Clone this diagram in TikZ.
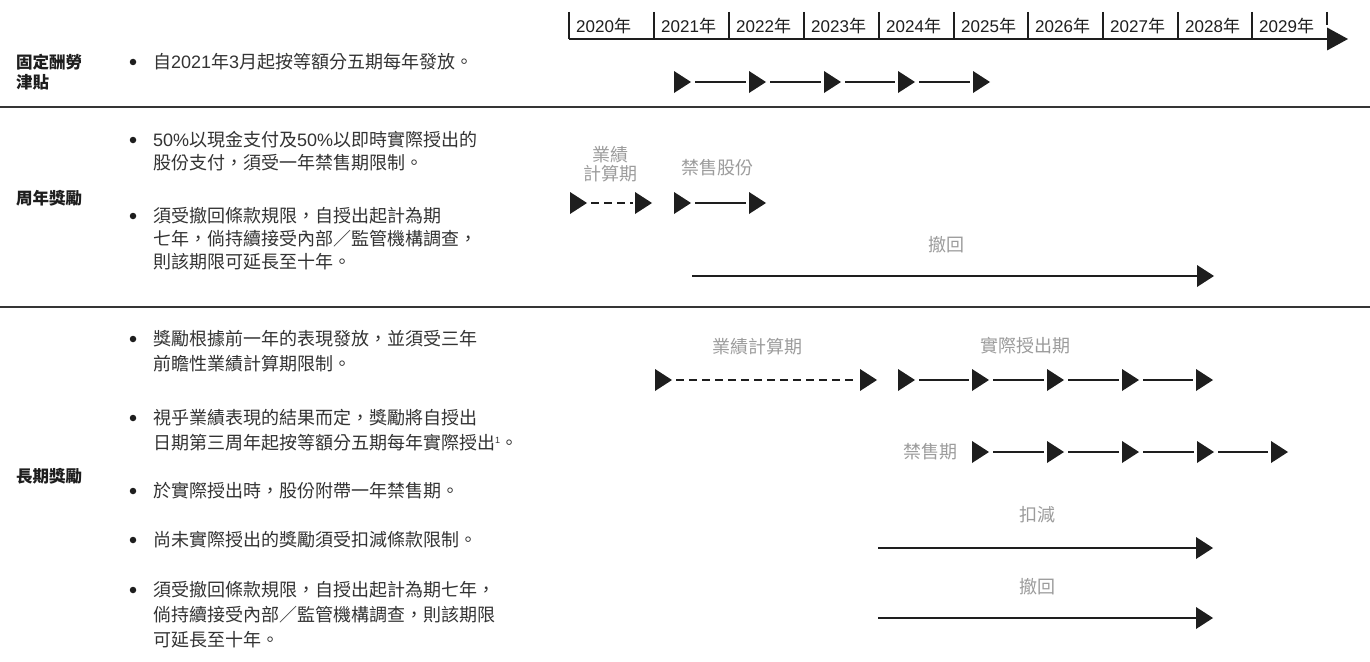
\documentclass[tikz,border=0pt]{standalone}
\usepackage{fontspec}
\setmainfont{Noto Sans CJK TC}
\newfontfamily\lat{Liberation Sans}
\usetikzlibrary{shapes.geometric}
\definecolor{ink}{HTML}{1E1E1E}
\definecolor{txt}{HTML}{333333}
\definecolor{lab}{HTML}{9C9C9C}
\tikzset{
  tri/.style={isosceles triangle, isosceles triangle stretches, fill=ink, draw=none,
    inner sep=0pt, outer sep=0pt, minimum width=22pt, minimum height=17pt, anchor=west},
  axtri/.style={tri, minimum width=23pt, minimum height=21pt},
  conn/.style={draw=ink, line width=2pt},
  gapconn/.style={conn, shorten <=4pt, shorten >=3pt},
  dashconn/.style={draw=ink, line width=2.4pt, dash pattern=on 8pt off 5pt, shorten <=4pt, shorten >=2pt},
  axisline/.style={draw=ink, line width=2.4pt},
  tickline/.style={draw=ink, line width=1.4pt},
  sepline/.style={draw=ink!90, line width=1.6pt},
  year/.style={font=\fontsize{17}{20}\selectfont, text=ink, inner sep=0pt, anchor=west},
  rowlab/.style={font=\fontsize{16.5}{20}\selectfont\bfseries, text=ink, inner sep=0pt, anchor=west, align=left},
  btxt/.style={font=\fontsize{18}{23}\selectfont, text=txt, inner sep=0pt, anchor=west, align=left},
  btxtb/.style={btxt, font=\fontsize{18}{25}\selectfont},
  bdot/.style={circle, fill=ink, inner sep=0pt, minimum size=6.5pt},
  glab/.style={font=\fontsize{18}{19}\selectfont, text=lab, inner sep=0pt, align=center},
}
\begin{document}
\begin{tikzpicture}[x=1pt,y=-1pt]
\useasboundingbox[fill=white] (0,0) rectangle (1370,661);

% ---------- time axis ----------
\foreach \x/\yr in {569/2020,654/2021,729/2022,804/2023,879/2024,954/2025,1028/2026,1103/2027,1178/2028,1252/2029}{
  \draw[tickline] (\x,12) -- (\x,39);
  \node[year] (y\yr) at (\x+7,26) {{\lat \yr}年};
}
\draw[tickline] (1327,12) -- (1327,25);
\coordinate (ax0) at (569,39);
\node[axtri] (axe) at (1327,39) {};
\draw[axisline] (ax0) -- (axe.west);

% ---------- separators ----------
\draw[sepline] (0,107) -- (1370,107);
\draw[sepline] (0,307) -- (1370,307);

% ---------- row 1 ----------
\node[rowlab] (l1) at (16,72) {固定酬勞\\津貼};
\node[bdot] (d1) at (133,62) {};
\node[btxt] (t1) at (153,62) {自{\lat 2021}年{\lat 3}月起按等額分五期每年發放。};
\foreach \i/\x in {1/674,2/749,3/824,4/898,5/973}{
  \node[tri] (a\i) at (\x,82) {};
}
\foreach \i/\j in {1/2,2/3,3/4,4/5}{\draw[gapconn] (a\i.east) -- (a\j.west);}

% ---------- row 2 ----------
\node[rowlab] (l2) at (16,198) {周年獎勵};
\node[bdot] (d21) at (133,140) {};
\node[btxt] (t21) at (153,151.5) {{\lat 50\%}以現金支付及{\lat 50\%}以即時實際授出的\\股份支付，須受一年禁售期限制。};
\node[bdot] (d22) at (133,216) {};
\node[btxt] (t22) at (153,239) {須受撤回條款規限，自授出起計為期\\七年，倘持續接受內部／監管機構調查，\\則該期限可延長至十年。};

\node[glab] (g21) at (610,164) {業績\\計算期};
\node[glab] (g22) at (717,168) {禁售股份};
\node[glab] (g23) at (946,245) {撤回};

\node[tri] (b1) at (570,203) {};
\node[tri] (b2) at (635,203) {};
\draw[dashconn] (b1.east) -- (b2.west);
\node[tri] (b3) at (674,203) {};
\node[tri] (b4) at (749,203) {};
\draw[gapconn] (b3.east) -- (b4.west);
\coordinate (c0) at (692,276);
\node[tri] (c1) at (1197,276) {};
\draw[conn] (c0) -- (c1.west);

% ---------- row 3 ----------
\node[rowlab] (l3) at (16,476) {長期獎勵};
\node[bdot] (d31) at (133,339) {};
\node[btxtb] (t31) at (153,351.5) {獎勵根據前一年的表現發放，並須受三年\\前瞻性業績計算期限制。};
\node[bdot] (d32) at (133,418) {};
\node[btxtb] (t32) at (153,430.5) {視乎業績表現的結果而定，獎勵將自授出\\日期第三周年起按等額分五期每年實際授出{\lat\fontsize{9}{9}\selectfont\raisebox{6.5pt}{1}}。};
\node[bdot] (d33) at (133,491) {};
\node[btxtb] (t33) at (153,491) {於實際授出時，股份附帶一年禁售期。};
\node[bdot] (d34) at (133,540) {};
\node[btxtb] (t34) at (153,540) {尚未實際授出的獎勵須受扣減條款限制。};
\node[bdot] (d35) at (133,590) {};
\node[btxtb] (t35) at (153,615) {須受撤回條款規限，自授出起計為期七年，\\倘持續接受內部／監管機構調查，則該期限\\可延長至十年。};

\node[glab] (g31) at (757,347) {業績計算期};
\node[glab] (g32) at (1025,346) {實際授出期};
\node[glab] (g33) at (930,452) {禁售期};
\node[glab] (g34) at (1037,515) {扣減};
\node[glab] (g35) at (1037,587) {撤回};

\node[tri] (e1) at (655,380) {};
\node[tri] (e2) at (860,380) {};
\draw[dashconn] (e1.east) -- (e2.west);
\foreach \i/\x in {1/898,2/972,3/1047,4/1122,5/1196}{
  \node[tri] (f\i) at (\x,380) {};
}
\foreach \i/\j in {1/2,2/3,3/4,4/5}{\draw[gapconn] (f\i.east) -- (f\j.west);}
\foreach \i/\x in {1/972,2/1047,3/1122,4/1197,5/1271}{
  \node[tri] (h\i) at (\x,452) {};
}
\foreach \i/\j in {1/2,2/3,3/4,4/5}{\draw[gapconn] (h\i.east) -- (h\j.west);}
\coordinate (k0) at (878,548);
\node[tri] (k1) at (1196,548) {};
\draw[conn] (k0) -- (k1.west);
\coordinate (m0) at (878,618);
\node[tri] (m1) at (1196,618) {};
\draw[conn] (m0) -- (m1.west);
\end{tikzpicture}
\end{document}
